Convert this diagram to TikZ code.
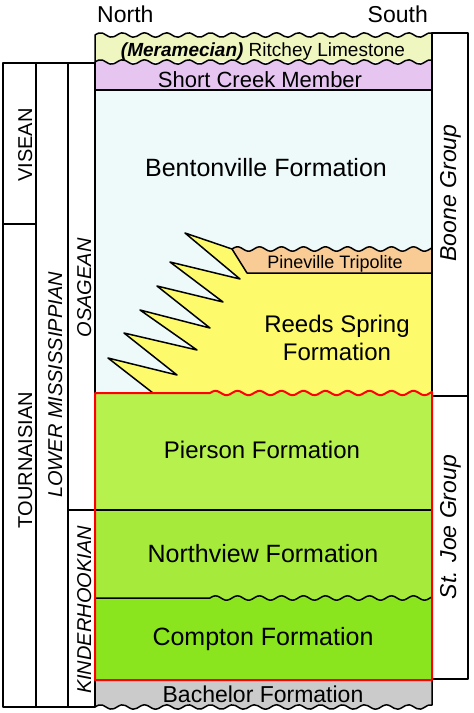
\documentclass[tikz,border=0pt]{standalone}
\usepackage{fontspec}
\setmainfont{Liberation Sans}

\definecolor{ritcheyclr}{HTML}{F0F6C0}
\definecolor{shortclr}{HTML}{E6C5F1}
\definecolor{bentonclr}{HTML}{EEF9FA}
\definecolor{tripolclr}{HTML}{F8CC94}
\definecolor{reedsclr}{HTML}{FDFB6C}
\definecolor{piersonclr}{HTML}{B6F14E}
\definecolor{northclr}{HTML}{A6EB3C}
\definecolor{comptonclr}{HTML}{8AE51E}
\definecolor{bachclr}{HTML}{CBCBCB}

\begin{document}
\begin{tikzpicture}[x=1pt, y=-1pt, line join=round,
        wavy/.style={samples=90, smooth},
        formtxt/.style={inner sep=0pt, anchor=base, font=\fontsize{24}{28}\selectfont},
        agetxt/.style={inner sep=0pt, rotate=90, anchor=base, font=\fontsize{20}{24}\selectfont},
        grouptxt/.style={agetxt, font=\fontsize{23}{27}\selectfont\itshape},
        boundary/.style={line width=1.5pt},
        redline/.style={line width=2pt, draw=red}]
                \useasboundingbox (0,0) rectangle (474,713);
                % Units, top to bottom (wavy = unconformable contact, period 22):
                \fill[bentonclr] (95,90) rectangle (432,396);
                \fill[reedsclr] (432,396) -- (432,273) -- (247,273) -- (232,249) -- (185,233) -- (240,279)
                    -- (170,262) -- (223,302) -- (157,286) -- (210,328) -- (140,310) -- (197,350)
                    -- (124,333) -- (177,375) -- (108,358) -- (153,393) -- (153,396) -- cycle;
                \fill[tripolclr] (247,273) -- (232,249)
                    -- plot[wavy, domain=232:432] (\x, {249-2.2*sin(16.3636*(\x-232))}) -- (432,273) -- cycle;
                \fill[ritcheyclr] (95,62) -- (95,35)
                    -- plot[wavy, domain=95:432] (\x, {35-2.2*sin(16.3636*(\x-95))}) -- (432,62) -- cycle;
                \fill[shortclr] (95,90) -- (95,62)
                    -- plot[wavy, domain=95:432] (\x, {62-2.2*sin(16.3636*(\x-95))}) -- (432,90) -- cycle;
                \fill[piersonclr] (95,512) -- (95,393) -- (210,393)
                    -- plot[wavy, domain=210:432] (\x, {393-2.2*sin(16.3636*(\x-210))}) -- (432,512) -- cycle;
                \fill[northclr] (95,510) rectangle (432,600);
                \fill[comptonclr] (95,682) -- (95,598) -- (210,598)
                    -- plot[wavy, domain=210:432] (\x, {598-2.2*sin(16.3636*(\x-210))}) -- (432,682) -- cycle;
                \fill[bachclr] (95,680) -- (95,707)
                    -- plot[wavy, domain=95:432] (\x, {707-2.2*sin(16.3636*(\x-95))}) -- (432,680) -- cycle;

                % Contacts:
                \draw[boundary] (95,393) -- (95,35)
                    -- plot[wavy, domain=95:432] (\x, {35-2.2*sin(16.3636*(\x-95))});
                \draw[boundary] plot[wavy, domain=95:432] (\x, {62-2.2*sin(16.3636*(\x-95))});
                \draw[boundary] (95,90) -- (432,90);
                \draw[boundary] plot[wavy, domain=232:432] (\x, {249-2.2*sin(16.3636*(\x-232))});
                \draw[boundary] (432,273) -- (247,273) -- (232,249) -- (185,233) -- (240,279)
                    -- (170,262) -- (223,302) -- (157,286) -- (210,328) -- (140,310) -- (197,350)
                    -- (124,333) -- (177,375) -- (108,358) -- (153,393);
                \draw[boundary] (95,510) -- (432,510);
                \draw[boundary] (95,598) -- (210,598)
                    -- plot[wavy, domain=210:432] (\x, {598-2.2*sin(16.3636*(\x-210))});
                \draw[boundary] (95,680) -- (95,707)
                    -- plot[wavy, domain=95:432] (\x, {707-2.2*sin(16.3636*(\x-95))}) -- (432,680);

                % Age and group columns:
                \draw[boundary] (3,63) rectangle (36,707) (3,224) -- (36,224);
                \draw[boundary] (36,63) rectangle (68,707);
                \draw[boundary] (68,63) rectangle (95,707) (68,510) -- (95,510);
                \draw[boundary] (432,33) rectangle (468,679) (432,396) -- (468,396);
                \draw[redline] (95,680) -- (95,393) -- (210,393)
                    -- plot[wavy, domain=210:432] (\x, {393-2.2*sin(16.3636*(\x-210))}) -- (432,680) -- cycle;

                % Labels:
                \node[formtxt, anchor=base west, font=\fontsize{23}{27}\selectfont] (north) at (97,22) {North};
                \node[formtxt, anchor=base east, font=\fontsize{23}{27}\selectfont] (south) at (428,22) {South};
                \node[formtxt, font=\fontsize{19}{23}\selectfont] (ritchey) at (263,56) {\bfseries\itshape(Meramecian)\normalfont\ Ritchey Limestone};
                \node[formtxt, font=\fontsize{22}{26}\selectfont] (shortcreek) at (260,87) {Short Creek Member};
                \node[formtxt, font=\fontsize{25}{29}\selectfont] (bentonville) at (266,176) {Bentonville Formation};
                \node[formtxt, font=\fontsize{18}{22}\selectfont] (pineville) at (335,268) {Pineville Tripolite};
                \node[formtxt, align=center] (reeds) at (337,360) {Reeds Spring\\Formation};
                \node[formtxt] (pierson) at (262,458) {Pierson Formation};
                \node[formtxt, font=\fontsize{25}{29}\selectfont] (northview) at (263,562) {Northview Formation};
                \node[formtxt, font=\fontsize{25}{29}\selectfont] (compton) at (263,645) {Compton Formation};
                \node[formtxt, font=\fontsize{23}{27}\selectfont] (bachelor) at (263,702) {Bachelor Formation};

                \node[agetxt] (visean) at (32,145) {VISEAN};
                \node[agetxt] (tournaisian) at (32,460) {TOURNAISIAN};
                \node[agetxt, font=\fontsize{20}{24}\selectfont\itshape] (lowermiss) at (62,385) {LOWER MISSISSIPPIAN};
                \node[agetxt, font=\fontsize{20}{24}\selectfont\itshape] (osagean) at (91,288) {OSAGEAN};
                \node[agetxt, font=\fontsize{20}{24}\selectfont\itshape] (kinderhook) at (91,610) {KINDERHOOKIAN};
                \node[grouptxt] (boone) at (456,193) {Boone Group};
                \node[grouptxt] (stjoe) at (456,527) {St. Joe Group};
            \end{tikzpicture}
\end{document}
